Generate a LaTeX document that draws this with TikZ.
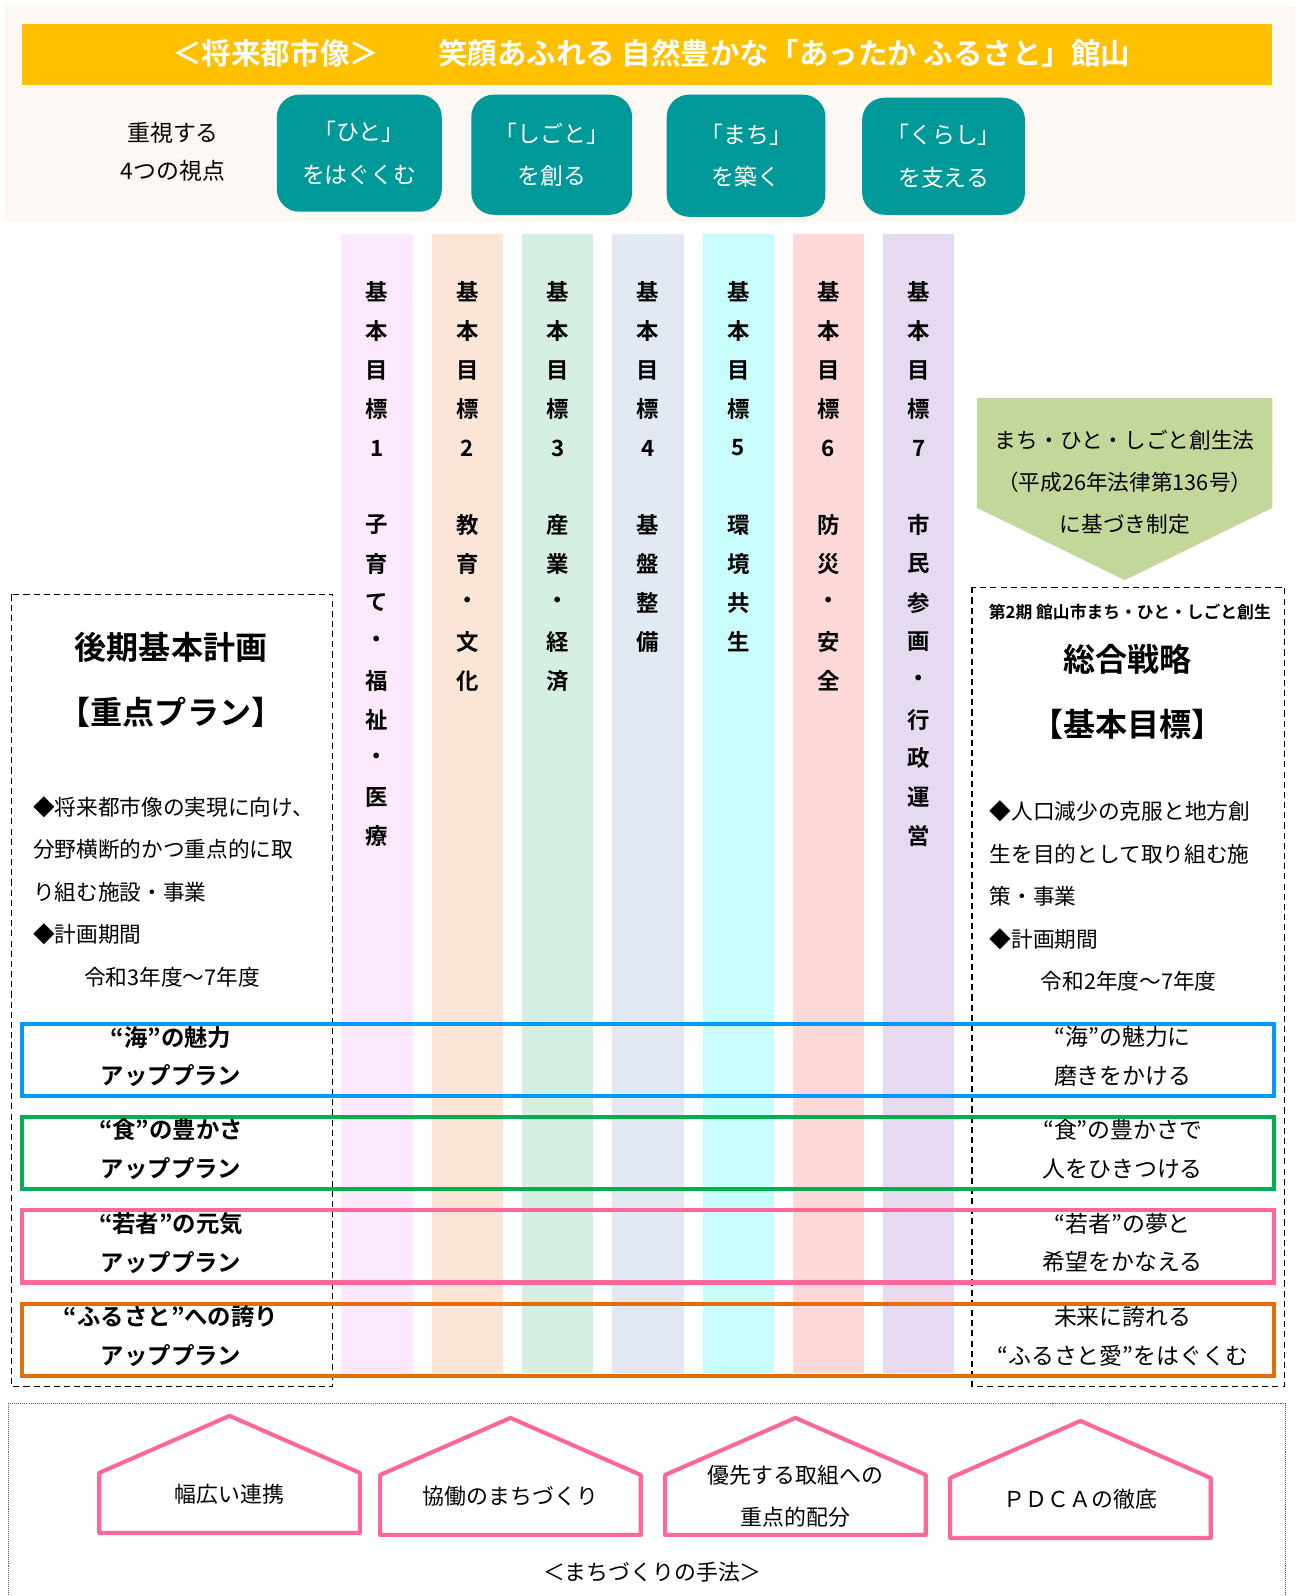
\documentclass[tikz,border=0pt]{standalone}
\usepackage{fontspec}
\setmainfont{Noto Sans CJK JP}[BoldFont={Noto Sans CJK JP Bold}]
\usetikzlibrary{positioning}
\definecolor{cream}{HTML}{FDF8F3}
\definecolor{banner}{HTML}{FFC000}
\definecolor{viewteal}{HTML}{009999}
\definecolor{goalA}{HTML}{FDE9FD}
\definecolor{goalB}{HTML}{FBE5D6}
\definecolor{goalC}{HTML}{D5F0E2}
\definecolor{goalD}{HTML}{E2E9F3}
\definecolor{goalE}{HTML}{C9FCFC}
\definecolor{goalF}{HTML}{FDD8D8}
\definecolor{goalG}{HTML}{E6DAF1}
\definecolor{lawgreen}{HTML}{C4D79B}
\definecolor{bandblue}{HTML}{0099FF}
\definecolor{bandgreen}{HTML}{00B050}
\definecolor{bandpink}{HTML}{FF6699}
\definecolor{bandorange}{HTML}{E46C0A}

\begin{document}
\begin{tikzpicture}[x=1pt,y=-1pt,
    view/.style={fill=viewteal, rounded corners=22pt, text=white, align=center, font=\fontsize{22.5}{42}\selectfont},
    goal/.style={font=\fontsize{22}{24}\selectfont\bfseries},
    plan/.style={align=center, font=\fontsize{23}{38}\selectfont\bfseries},
    aim/.style={align=center, font=\fontsize{22.5}{38}\selectfont},
    body/.style={anchor=west, font=\fontsize{21.3}{24}\selectfont},
    big/.style={font=\fontsize{31.5}{32}\selectfont\bfseries},
    band/.style={draw=#1, line width=4pt},
    house/.style={draw=bandpink, line width=4pt, fill=white, line join=round},
    dashbox/.style={draw, line width=1.2pt, dash pattern=on 6pt off 4pt}]
    \useasboundingbox (0,0) rectangle (1272.3,1568);
    \fill[white] (0,0) rectangle (1272.3,1568);

    % vision
    \fill[cream] (5,5) rectangle (1272,218);
    \fill[banner] (22,24) rectangle (1250,84);
    \node[text=white, font=\fontsize{29}{30}\selectfont\bfseries] (vision) at (640,52)
        {＜将来都市像＞　　笑顔あふれる 自然豊かな「あったか ふるさと」館山};
    \node[align=center, font=\fontsize{22.5}{38}\selectfont] (points) at (170,149) {重視する\\4つの視点};
    \foreach \x/\y/\w/\h/\a/\b [count=\i] in {353/150.5/162/115/ひと/をはぐくむ, 542/152/158/118/しごと/を創る,
        733/153/156/120/まち/を築く, 927/153.5/160/115/くらし/を支える}
        \node[view, minimum width=\w pt, minimum height=\h pt] (view\i) at (\x,\y) {「\a」\\\b};

    % basic goals
    \foreach \x/\c/\n/\lst in {370.5/goalA/1/{子,育,て,・,福,祉,・,医,療}, 459.2/goalB/2/{教,育,・,文,化},
        547.9/goalC/3/{産,業,・,経,済}, 636.6/goalD/4/{基,盤,整,備}, 725.3/goalE/5/{環,境,共,生},
        814/goalF/6/{防,災,・,安,全}, 902.7/goalG/7/{市,民,参,画,・,行,政,運,営}} {
        \fill[\c] (\x-35,230) rectangle (\x+35,1349);
        \foreach \ch [count=\k] in {基,本,目,標,\n}
            \node[goal] (g\n-\k) at (\x,248.7+38.3*\k) {\ch};
        \foreach \ch [count=\k] in \lst
            \node[goal] (d\n-\k) at (\x,477.7+38.2*\k) {\ch};
    }

    % law arrow
    \fill[lawgreen] (960,391) -- (1250,391) -- (1250,499) -- (1105,570) -- (960,499) -- cycle;
    \node[align=center, font=\fontsize{21.3}{41.5}\selectfont] (law) at (1105,474)
        {まち・ひと・しごと創生法\\（平成26年法律第136号）\\に基づき制定};

    % plan boxes
    \draw[dashbox] (11,584) rectangle (327,1362);
    \node[big] (plan) at (168,636) {後期基本計画};
    \node[big] (plansub) at (168,700) {【重点プラン】};
    \foreach \t [count=\k] in {◆将来都市像の実現に向け、, 分野横断的かつ重点的に取, り組む施設・事業, ◆計画期間}
        \node[body] (lb\k) at (29,751.3+41.7*\k) {\t};
    \node[body] (lterm) at (79,960) {令和3年度～7年度};

    \draw[dashbox] (955,577) rectangle (1262,1362);
    \node[font=\fontsize{16.5}{18}\selectfont\bfseries] (strat) at (1110,601) {第2期 館山市まち・ひと・しごと創生};
    \node[big] (stratmain) at (1108,648) {総合戦略};
    \node[big] (stratsub) at (1108,712) {【基本目標】};
    \foreach \t [count=\k] in {◆人口減少の克服と地方創, 生を目的として取り組む施, 策・事業, ◆計画期間}
        \node[body] (rb\k) at (969,755.5+41.8*\k) {\t};
    \node[body] (rterm) at (1019,964) {令和2年度～7年度};

    % priority bands
    \foreach \y/\c/\l/\r [count=\i] in {
        1006/bandblue/{“海”の魅力\\アッププラン}/{“海”の魅力に\\磨きをかける},
        1097/bandgreen/{“食”の豊かさ\\アッププラン}/{“食”の豊かさで\\人をひきつける},
        1189/bandpink/{“若者”の元気\\アッププラン}/{“若者”の夢と\\希望をかなえる},
        1281/bandorange/{“ふるさと”への誇り\\アッププラン}/{未来に誇れる\\“ふるさと愛”をはぐくむ}} {
        \draw[band=\c] (22,\y) rectangle (1252,\y+71);
        \node[plan] (pl\i) at (168,\y+32) {\l};
        \node[aim] (ai\i) at (1103,\y+32) {\r};
    }

    % methods
    \draw[gray!70!black, line width=0.8pt, dash pattern=on 1pt off 1pt] (8,1575) -- (8,1379) -- (1263,1379) -- (1263,1575);
    \foreach \x/\y/\t [count=\i] in {225.5/1391/{幅広い連携}, 501.5/1393/{協働のまちづくり},
        781.5/1393/{優先する取組への\\重点的配分}, 1061.5/1396/{ＰＤＣＡの徹底}} {
        \draw[house] (\x,\y) -- (\x+128,\y+56) -- (\x+128,\y+115) -- (\x-128,\y+115) -- (\x-128,\y+56) -- cycle;
        \node[align=center, font=\fontsize{21.5}{41}\selectfont] (m\i) at (\x,\y+77) {\t};
    }
    \node[font=\fontsize{21.5}{24}\selectfont] (method) at (641,1545) {＜まちづくりの手法＞};
\end{tikzpicture}
\end{document}
